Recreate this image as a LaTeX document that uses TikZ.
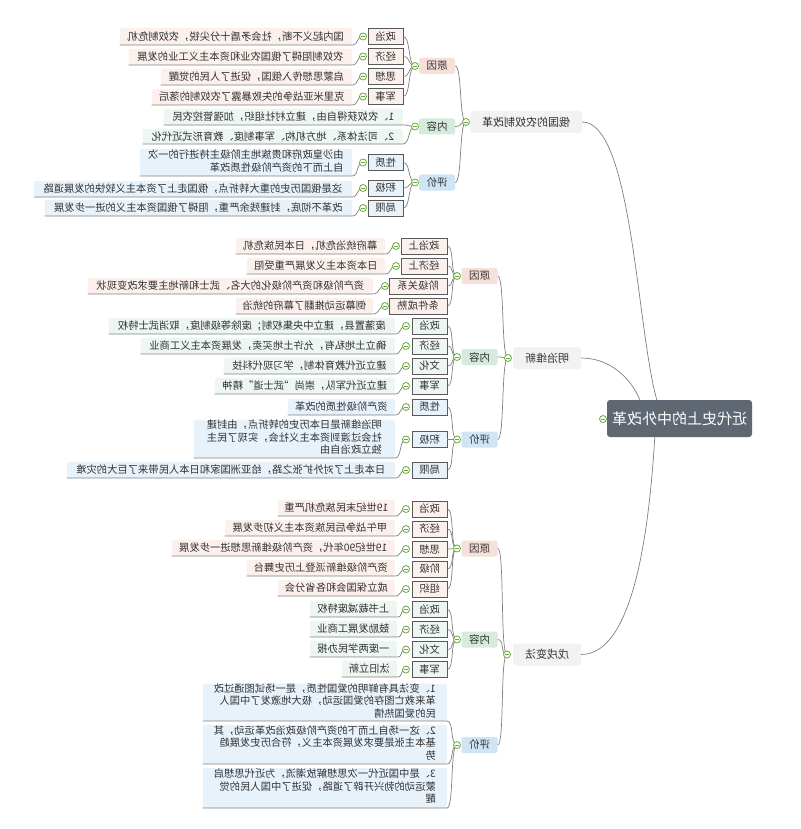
\documentclass[tikz,border=0pt]{standalone}
\usepackage{fontspec}
\usepackage{graphicx}
\setmainfont{Noto Sans CJK SC}
\usetikzlibrary{calc}
\definecolor{pinkA}{HTML}{F7DFDA}
\definecolor{pinkB}{HTML}{FCF0ED}
\definecolor{greenA}{HTML}{D5EBDE}
\definecolor{greenB}{HTML}{EDF6F0}
\definecolor{blueA}{HTML}{CFE4F5}
\definecolor{blueB}{HTML}{E8F2FB}
\definecolor{lonegray}{HTML}{F2F2F2}
\definecolor{rootgray}{HTML}{5F6773}
\definecolor{linegray}{HTML}{808080}
\definecolor{boxgray}{HTML}{595959}
\definecolor{txt}{HTML}{333333}
\definecolor{toggreen}{HTML}{6AAA3A}
\newcommand\mt[1]{\reflectbox{#1}}
\newcommand\ml[1]{\reflectbox{\begin{tabular}{@{}l@{}}#1\end{tabular}}}
\newcommand\leaf[7]{\node[leafbox, fill=#6, minimum width={(#3-#2)*1pt}, minimum height={(#5-#4)*1pt}] (#1) at (#3,#5) {#7};}
\newcommand\leafline[2]{\draw[conn] (#1) .. controls +(-7,0) and +(7,0) .. (#2.south east) -- (#2.south west);}
\newcommand\brk[2]{\draw[conn] (#1) .. controls +(-7,0) and +(7,0) .. (#2.east);}
\begin{document}
\begin{tikzpicture}[x=1pt,y=-1pt,
  conn/.style={draw=linegray, line width=0.7pt},
  rootbox/.style={fill=rootgray, rounded corners=3pt, text=white, font=\fontsize{15}{18}\selectfont, minimum width=145pt, minimum height=37pt, inner sep=0pt},
  lone/.style={fill=lonegray, rounded corners=3pt, text=txt, font=\fontsize{11}{13}\selectfont, minimum height=22pt, inner sep=0pt},
  ltwo/.style={rounded corners=2pt, text=txt, font=\fontsize{10.5}{12}\selectfont, minimum width=36pt, minimum height=16pt, inner sep=0pt},
  lthree/.style={draw=boxgray, line width=0.8pt, text=txt, font=\fontsize{10.3}{12}\selectfont, minimum height=16pt, inner sep=0pt},
  leafbox/.style={text=txt, font=\fontsize{10.3}{12.3}\selectfont, inner sep=0pt, anchor=south east, rounded corners=1.5pt},
  tog/.style={circle, draw=toggreen, fill=white, line width=0.8pt, minimum size=7pt, inner sep=0pt,
    path picture={\draw[toggreen, line width=0.8pt] ([xshift=-2pt]path picture bounding box.center) -- ([xshift=2pt]path picture bounding box.center);}}
]
\useasboundingbox[fill=white] (0,0) rectangle (800,829);

% root and level 1
\node[rootbox] (root) at (679.5,418.5) {\mt{近代史上的中外改革}};
\node[lone, minimum width=112pt] (a) at (526,122) {\mt{俄国的农奴制改革}};
\node[lone, minimum width=68pt] (b) at (547,358) {\mt{明治维新}};
\node[lone, minimum width=68pt] (c) at (547,654.5) {\mt{戊戌变法}};

% level 2
\node[ltwo, fill=pinkA] (a1) at (437,66) {\mt{原因}};
\node[ltwo, fill=greenA] (a2) at (437,126.5) {\mt{内容}};
\node[ltwo, fill=blueA] (a3) at (437,182.5) {\mt{评价}};
\node[ltwo, fill=pinkA] (b1) at (479.5,276) {\mt{原因}};
\node[ltwo, fill=greenA] (b2) at (479.5,357) {\mt{内容}};
\node[ltwo, fill=blueA] (b3) at (479.5,439.5) {\mt{评价}};
\node[ltwo, fill=pinkA] (c1) at (479.5,548.5) {\mt{原因}};
\node[ltwo, fill=greenA] (c2) at (479.5,639.5) {\mt{内容}};
\node[ltwo, fill=blueA] (c3) at (479.5,745) {\mt{评价}};

% level 3
\node[lthree, fill=pinkB, minimum width=35pt] (a11) at (385.5,36.5) {\mt{政治}};
\node[lthree, fill=pinkB, minimum width=35pt] (a12) at (385.5,56.5) {\mt{经济}};
\node[lthree, fill=pinkB, minimum width=35pt] (a13) at (385.5,76.5) {\mt{思想}};
\node[lthree, fill=pinkB, minimum width=35pt] (a14) at (385.5,96.5) {\mt{军事}};
\node[lthree, fill=blueB, minimum width=35pt] (a31) at (385.5,162.5) {\mt{性质}};
\node[lthree, fill=blueB, minimum width=35pt] (a32) at (385.5,188) {\mt{积极}};
\node[lthree, fill=blueB, minimum width=35pt] (a33) at (385.5,208) {\mt{局限}};

\node[lthree, fill=pinkB, minimum width=46pt] (b11) at (424,246) {\mt{政治上}};
\node[lthree, fill=pinkB, minimum width=46pt] (b12) at (424,266) {\mt{经济上}};
\node[lthree, fill=pinkB, minimum width=58pt] (b13) at (418,286) {\mt{阶级关系}};
\node[lthree, fill=pinkB, minimum width=58pt] (b14) at (418,306) {\mt{条件成熟}};
\node[lthree, fill=greenB, minimum width=35pt] (b21) at (429.5,326) {\mt{政治}};
\node[lthree, fill=greenB, minimum width=35pt] (b22) at (429.5,346) {\mt{经济}};
\node[lthree, fill=greenB, minimum width=35pt] (b23) at (429.5,366) {\mt{文化}};
\node[lthree, fill=greenB, minimum width=35pt] (b24) at (429.5,386) {\mt{军事}};
\node[lthree, fill=blueB, minimum width=35pt] (b31) at (429.5,407) {\mt{性质}};
\node[lthree, fill=blueB, minimum width=35pt] (b32) at (429.5,439.5) {\mt{积极}};
\node[lthree, fill=blueB, minimum width=35pt] (b33) at (429.5,470) {\mt{局限}};

\node[lthree, fill=pinkB, minimum width=35pt] (c11) at (429.5,509) {\mt{政治}};
\node[lthree, fill=pinkB, minimum width=35pt] (c12) at (429.5,529) {\mt{经济}};
\node[lthree, fill=pinkB, minimum width=35pt] (c13) at (429.5,549) {\mt{思想}};
\node[lthree, fill=pinkB, minimum width=35pt] (c14) at (429.5,569) {\mt{阶级}};
\node[lthree, fill=pinkB, minimum width=35pt] (c15) at (429.5,589) {\mt{组织}};
\node[lthree, fill=greenB, minimum width=35pt] (c21) at (429.5,609.5) {\mt{政治}};
\node[lthree, fill=greenB, minimum width=35pt] (c22) at (429.5,629.5) {\mt{经济}};
\node[lthree, fill=greenB, minimum width=35pt] (c23) at (429.5,649.5) {\mt{文化}};
\node[lthree, fill=greenB, minimum width=35pt] (c24) at (429.5,669.5) {\mt{军事}};

% leaves
\leaf{a11l}{120}{352}{28}{45}{pinkB}{\mt{国内起义不断，社会矛盾十分尖锐，农奴制危机}}
\leaf{a12l}{129}{352}{49}{65}{pinkB}{\mt{农奴制阻碍了俄国农业和资本主义工业的发展}}
\leaf{a13l}{161}{352}{69}{85}{pinkB}{\mt{启蒙思想传入俄国，促进了人民的觉醒}}
\leaf{a14l}{152}{352}{89}{105}{pinkB}{\mt{克里米亚战争的失败暴露了农奴制的落后}}
\leaf{a21l}{164}{403}{109}{125}{greenB}{\mt{1、农奴获得自由，建立村社组织，加强管控农民}}
\leaf{a22l}{143}{403}{129}{144}{greenB}{\mt{2、司法体系、地方机构、军事制度、教育形式近代化}}
\leaf{a31l}{140}{352}{149}{176}{blueB}{\ml{由沙皇政府和贵族地主阶级主持进行的一次\\自上而下的资产阶级性质改革}}
\leaf{a32l}{34}{352}{181}{197}{blueB}{\mt{这是俄国历史的重大转折点，俄国走上了资本主义较快的发展道路}}
\leaf{a33l}{45}{352}{200}{216}{blueB}{\mt{改革不彻底，封建残余严重，阻碍了俄国资本主义的进一步发展}}

\leaf{b11l}{236}{385}{238}{254}{pinkB}{\mt{幕府统治危机，日本民族危机}}
\leaf{b12l}{247}{385}{258}{274}{pinkB}{\mt{日本资本主义发展严重受阻}}
\leaf{b13l}{88}{373}{278}{294}{pinkB}{\mt{资产阶级和资产阶级化的大名、武士和新地主要求改变现状}}
\leaf{b14l}{236}{373}{298}{314}{pinkB}{\mt{倒幕运动推翻了幕府的统治}}
\leaf{b21l}{109}{395}{318}{334}{greenB}{\mt{废藩置县，建立中央集权制；废除等级制度，取消武士特权}}
\leaf{b22l}{141}{395}{338}{354}{greenB}{\mt{确立土地私有，允许土地买卖，发展资本主义工商业}}
\leaf{b23l}{224}{395}{358}{374}{greenB}{\mt{建立近代教育体制，学习现代科技}}
\leaf{b24l}{215}{395}{378}{394}{greenB}{\mt{建立近代军队，崇尚“武士道”精神}}
\leaf{b31l}{288}{395}{399}{415}{blueB}{\mt{资产阶级性质的改革}}
\leaf{b32l}{194}{395}{420}{458}{blueB}{\ml{明治维新是日本历史的转折点，由封建\\社会过渡到资本主义社会，实现了民主\\独立政治自由}}
\leaf{b33l}{67}{395}{462}{478}{blueB}{\mt{日本走上了对外扩张之路，给亚洲国家和日本人民带来了巨大的灾难}}

\leaf{c11l}{278}{395}{500}{516}{pinkB}{\mt{19世纪末民族危机严重}}
\leaf{c12l}{225}{395}{520}{536}{pinkB}{\mt{甲午战争后民族资本主义初步发展}}
\leaf{c13l}{172}{395}{540}{556}{pinkB}{\mt{19世纪90年代，资产阶级维新思想进一步发展}}
\leaf{c14l}{247}{395}{560}{576}{pinkB}{\mt{资产阶级维新派登上历史舞台}}
\leaf{c15l}{278}{395}{580}{596}{pinkB}{\mt{成立保国会和各省分会}}
\leaf{c21l}{310}{397}{601}{617}{greenB}{\mt{上书裁减废特权}}
\leaf{c22l}{310}{397}{621}{637}{greenB}{\mt{鼓励发展工商业}}
\leaf{c23l}{310}{397}{641}{657}{greenB}{\mt{一废两学民办报}}
\leaf{c24l}{342}{397}{661}{677}{greenB}{\mt{汰旧立新}}
\leaf{c31l}{203}{447}{685}{721}{blueB}{\ml{1、变法具有鲜明的爱国性质，是一场试图通过改\\革来救亡图存的爱国运动，极大地激发了中国人\\民的爱国热情}}
\leaf{c32l}{203}{447}{725}{764}{blueB}{\ml{2、这一场自上而下的资产阶级政治改革运动，其\\基本主张是要求发展资本主义，符合历史发展趋\\势}}
\leaf{c33l}{203}{447}{768}{808}{blueB}{\ml{3、是中国近代一次思想解放潮流，为近代思想启\\蒙运动的勃兴开辟了道路，促进了中国人民的觉\\醒}}

% toggle positions
\coordinate (croot) at (603,419);
\coordinate (ca) at (466,122);
\coordinate (cb) at (508,358);
\coordinate (cc) at (507,654.5);
\coordinate (ca1) at (415,66);
\coordinate (ca2) at (415,126.5);
\coordinate (ca3) at (415,182.5);
\coordinate (cb1) at (457,276);
\coordinate (cb2) at (457,357);
\coordinate (cb3) at (457,439.5);
\coordinate (cc1) at (457,548.5);
\coordinate (cc2) at (457,639.5);
\coordinate (cc3) at (457,745);
\foreach \n/\y in {a11/36.5,a12/56.5,a13/76.5,a14/96.5,a31/162.5,a32/188,a33/208}{\coordinate (c\n) at (363,\y);}
\coordinate (cb11) at (396,246);
\coordinate (cb12) at (396,266);
\coordinate (cb13) at (385,286);
\coordinate (cb14) at (385,306);
\foreach \n/\y in {b21/326,b22/346,b23/366,b24/386,b31/407,b32/439.5,b33/470,c11/509,c12/529,c13/549,c14/569,c15/589,c21/609.5,c22/629.5,c23/649.5,c24/669.5}{\coordinate (c\n) at (406,\y);}

% root connectors
\draw[conn] (a.east) .. controls +(50,0) and +(-20,-70) .. ($(root.north west)+(50,0)$);
\draw[conn] (b.east) .. controls +(30,0) and +(-8,-20) .. ($(root.north west)+(33,0)$);
\draw[conn] (c.east) .. controls +(55,0) and +(-5,80) .. ($(root.south west)+(48,0)$);

% level1 -> level2
\foreach \p in {a,b,c}{\foreach \k in {1,2,3}{\brk{c\p}{\p\k}}}

% level2 -> level3
\foreach \k in {a11,a12,a13,a14}{\brk{ca1}{\k}}
\foreach \k in {a31,a32,a33}{\brk{ca3}{\k}}
\foreach \k in {b11,b12,b13,b14}{\brk{cb1}{\k}}
\foreach \k in {b21,b22,b23,b24}{\brk{cb2}{\k}}
\foreach \k in {b31,b32,b33}{\brk{cb3}{\k}}
\foreach \k in {c11,c12,c13,c14,c15}{\brk{cc1}{\k}}
\foreach \k in {c21,c22,c23,c24}{\brk{cc2}{\k}}

% leaf underlines
\leafline{ca2}{a21l}
\leafline{ca2}{a22l}
\leafline{cc3}{c31l}
\leafline{cc3}{c32l}
\leafline{cc3}{c33l}
\foreach \k in {a11,a12,a13,a14,a31,a32,a33,b11,b12,b13,b14,b21,b22,b23,b24,b31,b32,b33,c11,c12,c13,c14,c15,c21,c22,c23,c24}{\leafline{c\k}{\k l}}

% toggles
\foreach \n in {croot,ca,cb,cc,ca1,ca2,ca3,cb1,cb2,cb3,cc1,cc2,cc3,ca11,ca12,ca13,ca14,ca31,ca32,ca33,cb11,cb12,cb13,cb14,cb21,cb22,cb23,cb24,cb31,cb32,cb33,cc11,cc12,cc13,cc14,cc15,cc21,cc22,cc23,cc24}{\node[tog] (t\n) at (\n) {};}
\end{tikzpicture}
\end{document}
